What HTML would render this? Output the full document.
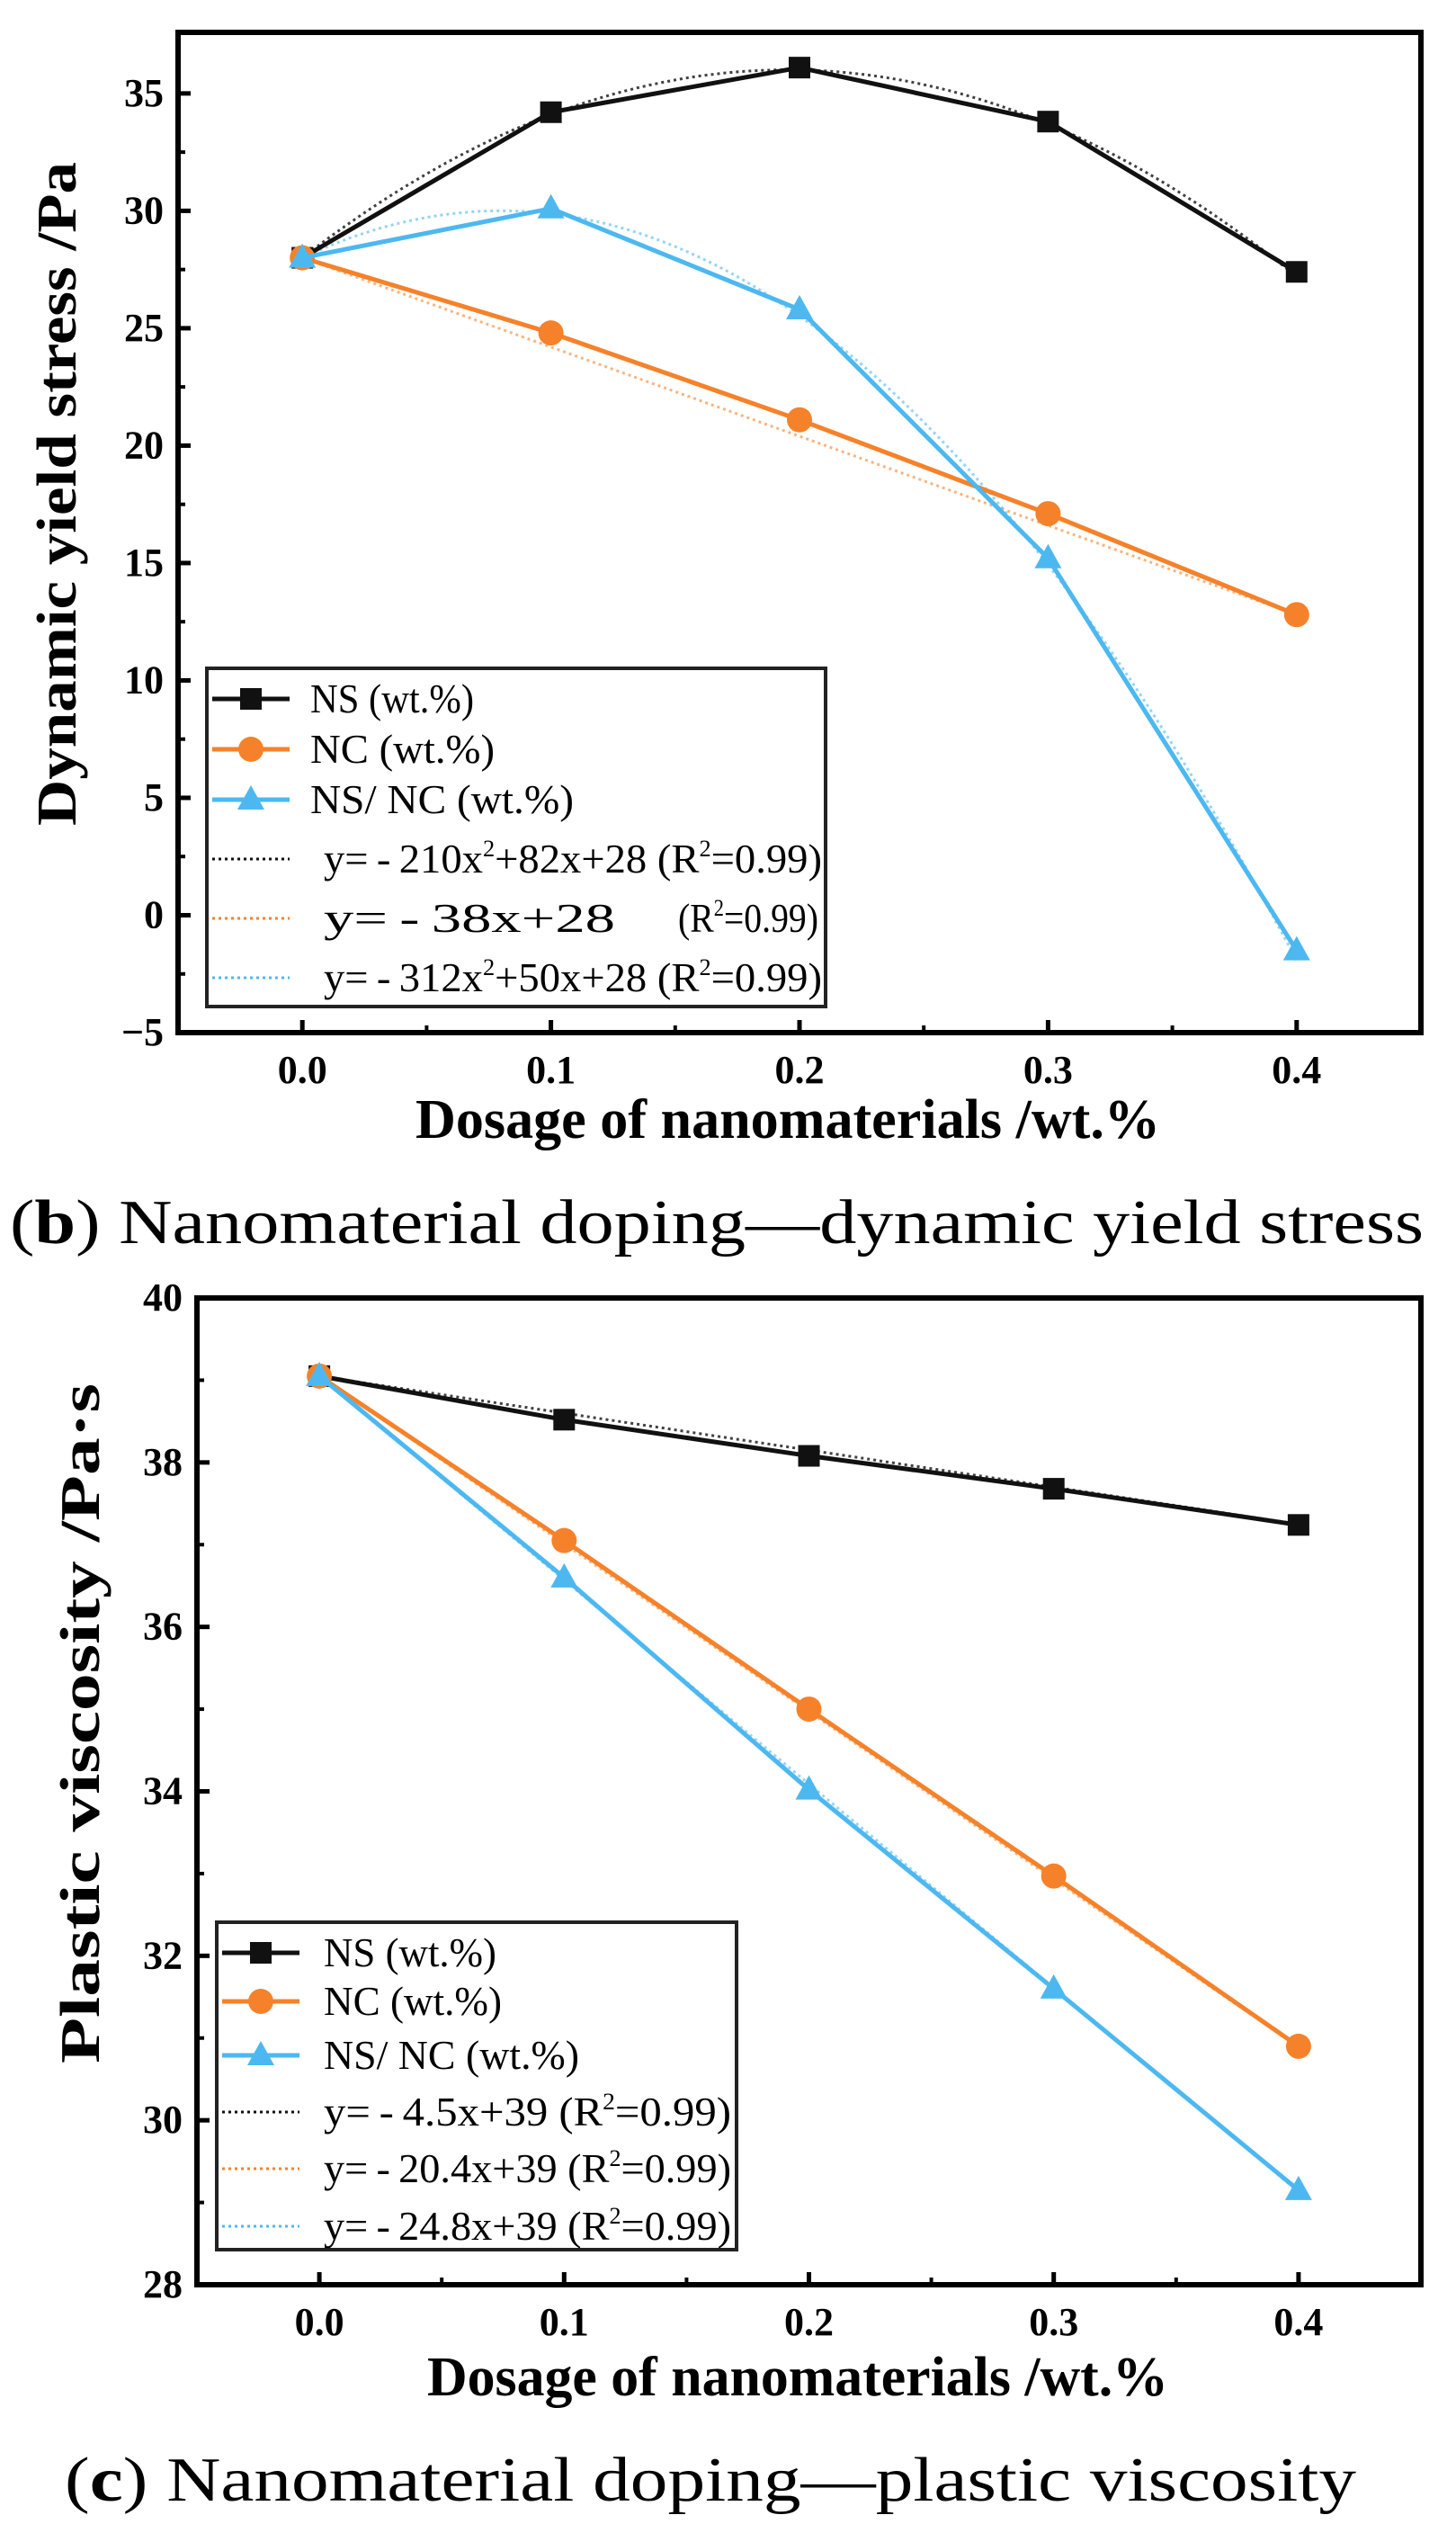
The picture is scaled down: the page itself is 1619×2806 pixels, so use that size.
<!DOCTYPE html>
<html><head><meta charset="utf-8"><style>
html,body{margin:0;padding:0;background:#fff}
svg{display:block}
text{font-family:"Liberation Serif",serif}
</style></head><body>
<svg id="root" width="1619" height="2806" viewBox="0 0 1619 2806" xmlns="http://www.w3.org/2000/svg"></svg>
<script>
// ---- Chart B: dynamic yield stress ----
const xCats = [0.0, 0.1, 0.2, 0.3, 0.4];
const xTickLabels = ["0.0","0.1","0.2","0.3","0.4"];
const bNS = [28.0, 34.2, 36.1, 33.8, 27.4];
const bNC = [28.0, 24.8, 21.1, 17.1, 12.8];
const bNSNC = [28.0, 30.1, 25.8, 15.2, -1.5];
const bFitNS = [-210, 82, 28];
const bFitNC = [0, -38, 28];
const bFitNSNC = [-312, 50, 28];
const bYTicks = [-5, 0, 5, 10, 15, 20, 25, 30, 35];
const bYTickLabels = ["\u22125","0","5","10","15","20","25","30","35"];
// ---- Chart C: plastic viscosity ----
const cNS = [39.05, 38.52, 38.08, 37.68, 37.24];
const cNC = [39.05, 37.05, 35.0, 32.97, 30.9];
const cNSNC = [39.05, 36.6, 34.02, 31.6, 29.15];
const cFitNS = [0, -4.5, 39.05];
const cFitNC = [0, -20.4, 39.05];
const cFitNSNC = [0, -24.8, 39.05];
const cYTicks = [28, 30, 32, 34, 36, 38, 40];
const cYTickLabels = ["28","30","32","34","36","38","40"];

const NS="http://www.w3.org/2000/svg";
const root=document.getElementById('root');
const COL={ns:"#111111",nc:"#f5822a",nsnc:"#4db8f0"};
function mk(tag,attrs,parent){const e=document.createElementNS(NS,tag);for(const k in attrs)e.setAttribute(k,attrs[k]);(parent||root).appendChild(e);return e;}
const SUP="<tspan font-size='26' dy='-18'>2</tspan><tspan dy='18'>";

function chart(cfg){
  const g=mk('g',{});
  
  
  const L=cfg.L,R=cfg.R,T=cfg.T,B=cfg.B;
  const sx=v=>L+(v-(-0.05))/(0.5)*(R-L);
  const sy=v=>B-(v-cfg.ymin)/(cfg.ymax-cfg.ymin)*(B-T);
  const yStep=cfg.yTicks[1]-cfg.yTicks[0];
  cfg.yTicks.forEach((t,i)=>{
    const y=sy(t);
    const tk=mk('line',{x1:L,x2:L+14,y1:y,y2:y,stroke:"#000","stroke-width":5},g);
    
    
    const lb=mk('text',{x:L-16,y:y+14,"text-anchor":"end","font-size":44,"font-weight":"bold"},g);
    lb.textContent=cfg.yLabels[i];
    
    
    if(i<cfg.yTicks.length-1){const ym=sy(t+yStep/2);mk('line',{x1:L,x2:L+8,y1:ym,y2:ym,stroke:"#000","stroke-width":4},g);}
  });
  xCats.forEach((c,i)=>{
    const x=sx(c);
    const tk=mk('line',{x1:x,x2:x,y1:B,y2:B-14,stroke:"#000","stroke-width":5},g);
    
    
    mk('line',{x1:sx(c+0.05),x2:sx(c+0.05),y1:B,y2:B-8,stroke:"#000","stroke-width":4},g);
    const lb=mk('text',{x:x,y:B+56,"text-anchor":"middle","font-size":44,"font-weight":"bold"},g);
    lb.textContent=xTickLabels[i];
    
    
  });
  const keys=['ns','nc','nsnc'];
  cfg.fits.forEach((f,k)=>{
    let d="";for(let j=0;j<=80;j++){const x=0.4*j/80;const y=f[0]*x*x+f[1]*x+f[2];d+=(j?"L":"M")+sx(x).toFixed(1)+","+sy(y).toFixed(1);}
    const p=mk('path',{d:d,fill:"none",stroke:COL[keys[k]],"stroke-width":3,"stroke-dasharray":"3 4",opacity:k==0?0.8:0.6},g);
    
    
  });
  cfg.series.forEach((s,k)=>{
    const pts=s.map((v,i)=>sx(xCats[i]).toFixed(1)+","+sy(v).toFixed(1)).join(" ");
    const pl=mk('polyline',{points:pts,fill:"none",stroke:COL[keys[k]],"stroke-width":5},g);
    
    
    s.forEach((v,i)=>{marker(g,keys[k],sx(xCats[i]),sy(v));});
  });
  const fr=mk('rect',{x:L,y:T,width:R-L,height:B-T,fill:"none",stroke:"#000","stroke-width":6},g);
  
  
  const lg=mk('g',{},g);
  
  
  mk('rect',{x:cfg.lg[0],y:cfg.lg[1],width:cfg.lg[2],height:cfg.lg[3],fill:"#fff",stroke:"#222","stroke-width":4},lg);
  const names=["NS (wt.%)","NC (wt.%)","NS/ NC (wt.%)"];
  cfg.rows.forEach((ry,r)=>{
    const x0=cfg.lg[0]+6,x1=x0+86;
    const e=mk('g',{},lg);
    
    
    if(r<3){
      mk('line',{x1:x0,x2:x1,y1:ry,y2:ry,stroke:COL[keys[r]],"stroke-width":5},e);
      marker(e,keys[r],(x0+x1)/2,ry);
      const t=mk('text',{x:cfg.nameX,y:ry+15,"font-size":46,textLength:cfg.nameLen[r],lengthAdjust:"spacingAndGlyphs"},e);t.textContent=names[r];
    }else{
      mk('line',{x1:x0,x2:x1,y1:ry,y2:ry,stroke:COL[keys[r-3]],"stroke-width":3,"stroke-dasharray":"3 4"},e);
      const t=mk('text',{x:cfg.eqX,y:ry+15,"font-size":46,textLength:cfg.eqLen[r-3],lengthAdjust:"spacingAndGlyphs"},e);
      t.innerHTML=cfg.fitText[r-3];
      if(cfg.extraR&&r==4){const t2=mk('text',{x:cfg.lg[0]+cfg.lg[2]-8,y:ry+15,"font-size":46,"text-anchor":"end",textLength:156,lengthAdjust:"spacingAndGlyphs"},e);t2.innerHTML="(R"+SUP+"=0.99)</tspan>";}
    }
  });
  const yt=mk('text',{x:0,y:0,transform:`translate(${cfg.ytx},${cfg.ytc}) rotate(-90)`,"text-anchor":"middle","font-size":62,"font-weight":"bold",textLength:cfg.ytLen,lengthAdjust:"spacingAndGlyphs"},g);
  yt.textContent=cfg.yTitle;
  
  
  const xt=mk('text',{x:cfg.xtx,y:cfg.xty,"text-anchor":"middle","font-size":62,"font-weight":"bold",textLength:cfg.xtLen,lengthAdjust:"spacingAndGlyphs"},g);
  xt.textContent="Dosage of nanomaterials /wt.%";
  
  
  const cp=mk('text',{x:cfg.capx,y:cfg.capy,"text-anchor":"middle","font-size":70,textLength:cfg.capLen,lengthAdjust:"spacingAndGlyphs"},g);
  cp.innerHTML=cfg.caption;
  
  
}
function marker(g,key,x,y){
  let m;
  if(key=='ns') m=mk('rect',{x:x-12,y:y-12,width:24,height:24,fill:COL.ns},g);
  else if(key=='nc') m=mk('circle',{cx:x,cy:y,r:14,fill:COL.nc},g);
  else m=mk('polygon',{points:`${x},${y-16} ${x+15},${y+11} ${x-15},${y+11}`,fill:COL.nsnc},g);
  
  
}
chart({name:'chart-yield-stress',L:198,R:1580,T:36,B:1148,ymin:-5,ymax:37.6,
  yTicks:bYTicks,yLabels:bYTickLabels,series:[bNS,bNC,bNSNC],fits:[bFitNS,bFitNC,bFitNSNC],
  lg:[230,743,688,376],rows:[777,833,889,955,1021,1087],
  nameX:345,nameLen:[182,205,293],eqX:360,eqLen:[554,324,554],
  fitText:["y=\u2009-\u2009210x"+SUP+"+82x+28 (R</tspan>"+SUP+"=0.99)</tspan>","y=\u2009-\u200938x+28","y=\u2009-\u2009312x"+SUP+"+50x+28 (R</tspan>"+SUP+"=0.99)</tspan>"],extraR:true,
  yTitle:"Dynamic yield stress /Pa",ytx:84,ytc:549,ytLen:738,xtx:876,xty:1265,xtLen:828,
  capx:797,capy:1382,capLen:1572,caption:"(<tspan font-weight='bold'>b</tspan>) Nanomaterial doping\u2014dynamic yield stress"});
chart({name:'chart-plastic-viscosity',L:219,R:1580,T:1443,B:2540,ymin:28,ymax:40,
  yTicks:cYTicks,yLabels:cYTickLabels,series:[cNS,cNC,cNSNC],fits:[cFitNS,cFitNC,cFitNSNC],
  lg:[241,2137,578,364],rows:[2171,2225,2285,2348,2411,2475],
  nameX:360,nameLen:[192,198,284],eqX:360,eqLen:[453,453,453],
  fitText:["y=\u2009-\u20094.5x+39 (R"+SUP+"=0.99)</tspan>","y=\u2009-\u200920.4x+39 (R"+SUP+"=0.99)</tspan>","y=\u2009-\u200924.8x+39 (R"+SUP+"=0.99)</tspan>"],extraR:false,
  yTitle:"Plastic viscosity /Pa\u00b7s",ytx:110,ytc:1916,ytLen:756,xtx:887,xty:2663,xtLen:824,
  capx:790,capy:2780,capLen:1436,caption:"(<tspan font-weight='bold'>c</tspan>) Nanomaterial doping\u2014plastic viscosity"});
</script>
</body></html>
